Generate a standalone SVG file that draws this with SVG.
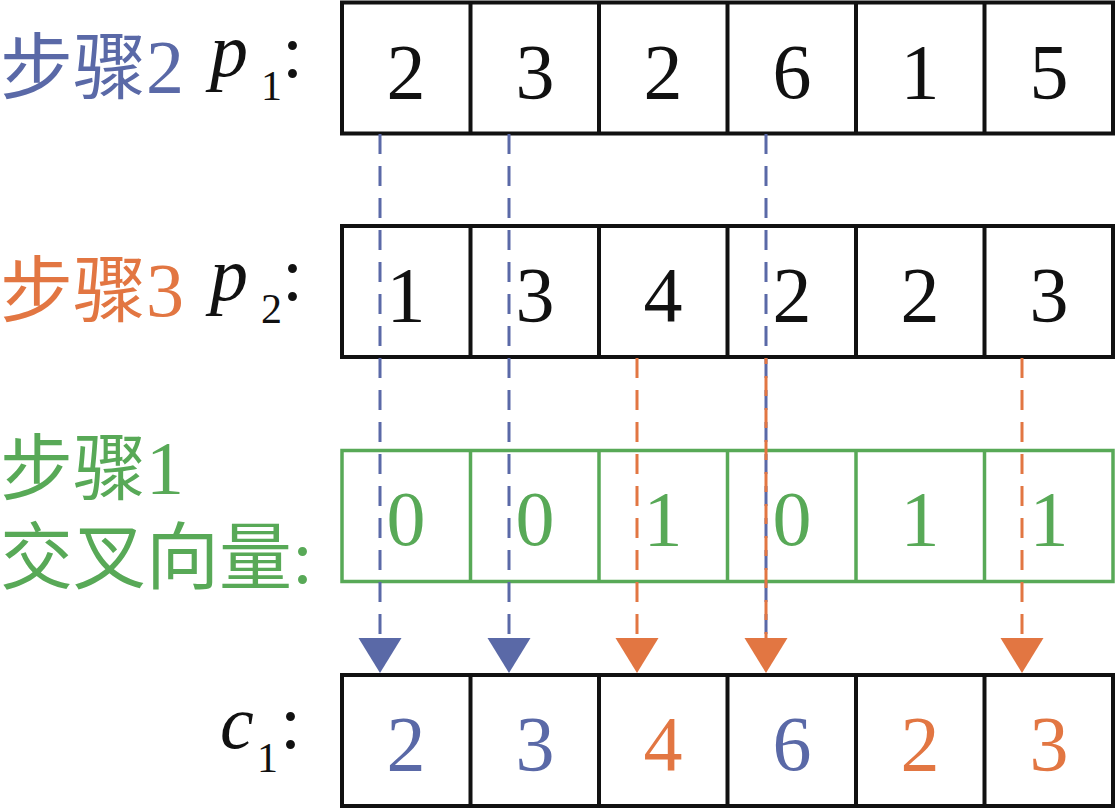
<svg xmlns="http://www.w3.org/2000/svg" width="1115" height="809" viewBox="0 0 1115 809">
<style>
.t{font-family:"Liberation Serif",serif;font-size:78px}
.lab{font-family:"Liberation Serif",serif;font-size:76px}
.cjk{font-family:"Noto Sans CJK SC","Noto Sans CJK JP",sans-serif;font-size:73px}
.it{font-style:italic}
.sub{font-family:"Liberation Serif",serif;font-size:42px}
.v{text-anchor:middle}
.box{fill:none;stroke:#111;stroke-width:4}
.gbox{fill:none;stroke:#58A957;stroke-width:3.5}
.bl{fill:#5A69A7}
.or{fill:#E27642}
.gr{fill:#58A957}
.bk{fill:#111}
.dash{fill:none;stroke-width:3;stroke-dasharray:20 12}
</style>
<defs>
<marker id="ab" markerUnits="userSpaceOnUse" markerWidth="40" markerHeight="46" refX="0" refY="23" orient="auto" viewBox="0 0 40 46"><path d="M0,1.5 L35,23 L0,44.5 z" fill="#5A69A7"/></marker>
<marker id="ao" markerUnits="userSpaceOnUse" markerWidth="40" markerHeight="46" refX="0" refY="23" orient="auto" viewBox="0 0 40 46"><path d="M0,1.5 L35,23 L0,44.5 z" fill="#E27642"/></marker>
</defs>

<g id="labels">
<text class="lab bl" x="0" y="93"><tspan class="cjk">步骤</tspan>2</text>
<text class="lab or" x="0" y="316"><tspan class="cjk">步骤</tspan>3</text>
<text class="lab gr" x="0" y="494"><tspan class="cjk">步骤</tspan>1<tspan class="cjk" x="0" y="583">交叉向量</tspan>:</text>
</g>

<g id="p1">
<text class="lab it bk" x="210" y="76">p</text>
<text class="sub bk" x="261" y="100">1</text>
<text class="lab bk" x="282" y="77">:</text>
<rect class="box" x="342" y="2.5" width="771" height="131"/>
<path class="box" d="M470.5,2.5V133.5M599,2.5V133.5M727.5,2.5V133.5M856,2.5V133.5M984.5,2.5V133.5"/>
<g class="t v bk">
<text x="406" y="98">2</text><text x="535" y="98">3</text><text x="663" y="98">2</text><text x="792" y="98">6</text><text x="920" y="98">1</text><text x="1049" y="98">5</text>
</g>
</g>

<g id="p2">
<text class="lab it bk" x="210" y="300">p</text>
<text class="sub bk" x="261" y="323">2</text>
<text class="lab bk" x="282" y="300">:</text>
<rect class="box" x="342" y="226" width="771" height="131"/>
<path class="box" d="M470.5,226V357M599,226V357M727.5,226V357M856,226V357M984.5,226V357"/>
<g class="t v bk">
<text x="406" y="321">1</text><text x="535" y="321">3</text><text x="663" y="321">4</text><text x="792" y="321">2</text><text x="920" y="321">2</text><text x="1049" y="321">3</text>
</g>
</g>

<g id="crossvector">
<rect class="gbox" x="342" y="450.5" width="771" height="131"/>
<path class="gbox" d="M470.5,450.5V581.5M599,450.5V581.5M727.5,450.5V581.5M856,450.5V581.5M984.5,450.5V581.5"/>
<g class="t v gr">
<text x="406" y="545">0</text><text x="535" y="545">0</text><text x="663" y="545">1</text><text x="792" y="545">0</text><text x="920" y="545">1</text><text x="1049" y="545">1</text>
</g>
</g>

<g id="c1">
<text class="lab it bk" x="220" y="748">c</text>
<text class="sub bk" x="257" y="772">1</text>
<text class="lab bk" x="280" y="748">:</text>
<rect class="box" x="342" y="675" width="771" height="131"/>
<path class="box" d="M470.5,675V806M599,675V806M727.5,675V806M856,675V806M984.5,675V806"/>
<g class="t v">
<text class="bl" x="406" y="770">2</text><text class="bl" x="535" y="770">3</text><text class="or" x="663" y="770">4</text><text class="bl" x="792" y="770">6</text><text class="or" x="920" y="770">2</text><text class="or" x="1049" y="770">3</text>
</g>
</g>

<g id="connectors">
<line class="dash" stroke="#5A69A7" x1="380" y1="134" x2="380" y2="638" marker-end="url(#ab)"/>
<line class="dash" stroke="#5A69A7" x1="509" y1="134" x2="509" y2="638" marker-end="url(#ab)"/>
<line class="dash" stroke="#5A69A7" x1="766" y1="134" x2="766" y2="636"/>
<line class="dash" stroke="#E27642" x1="637" y1="358" x2="637" y2="638" marker-end="url(#ao)"/>
<line class="dash" stroke="#E27642" x1="766" y1="358" x2="766" y2="638" stroke-dashoffset="14" marker-end="url(#ao)"/>
<line class="dash" stroke="#E27642" x1="1022" y1="358" x2="1022" y2="638" marker-end="url(#ao)"/>
</g>
</svg>
